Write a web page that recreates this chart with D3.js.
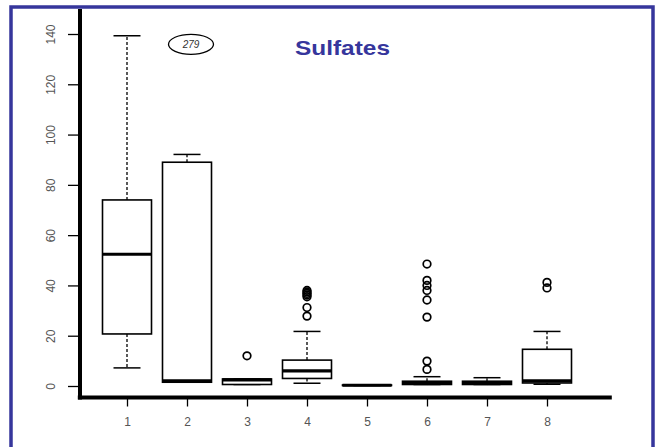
<!DOCTYPE html>
<html><head><meta charset="utf-8">
<script src="https://cdn.jsdelivr.net/npm/d3@7"></script>
<style>html,body{margin:0;padding:0;background:#fff;}svg{display:block;}</style>
</head><body>
<svg id="c" width="660" height="447"></svg>
<script>
const categories = ["1","2","3","4","5","6","7","8"];
const whiskerLow  = [7.2, 1.5, 0.6, 1.1, 0.2, 0.6, 0.6, 0.7];
const q1          = [20.7, 1.5, 0.6, 3.0, 0.2, 0.6, 0.6, 1.2];
const median      = [52.4, 2.0, 2.4, 6.0, 0.3, 1.4, 1.3, 2.0];
const q3          = [74.0, 89.0, 2.8, 10.3, 0.4, 1.9, 1.9, 14.6];
const whiskerHigh = [139.3, 92.1, 2.8, 21.7, 0.4, 3.7, 3.3, 21.7];
const outliers    = [[], [], [12], [27.8, 31.2, 35.5, 36.2, 36.8, 37.4, 38],
                     [], [48.5, 42, 40, 38, 34.2, 27.4, 9.9, 6.6], [], [41.2, 39]];
const yTicks = [0, 20, 40, 60, 80, 100, 120, 140];
const title = "Sulfates";
const noteLabel = "279";

const svg = d3.select("#c");
const blue = "#36369c";
const y = d3.scaleLinear().domain([0, 140]).range([386, 34]);
const x = d3.scalePoint().domain(categories).range([127, 547]);
const step = x.step();
const boxHalf = 24.5, capHalf = 13.5;

// frame
svg.append("rect").attr("x", 11).attr("y", 7).attr("width", 642).attr("height", 470)
  .attr("fill", "none").attr("stroke", blue).attr("stroke-width", 3.5);

// y axis
const gy = svg.append("g").attr("transform", "translate(79,0)")
  .call(d3.axisLeft(y).tickValues(yTicks).tickSize(11).tickFormat(d3.format("d")));
gy.select(".domain").remove();
gy.selectAll(".tick line").attr("stroke", "#000").attr("stroke-width", 1.3);
gy.selectAll(".tick text").attr("transform", "rotate(-90)").attr("x", 0).attr("y", -28)
  .attr("dy", "0.35em").attr("text-anchor", "middle")
  .attr("fill", "#555").style("font", "12px 'Liberation Sans', Arial, sans-serif");
svg.append("line").attr("x1", 80).attr("x2", 80).attr("y1", 9).attr("y2", 399.5)
  .attr("stroke", "#000").attr("stroke-width", 4);

// x axis
const gx = svg.append("g").attr("transform", "translate(0,397.5)")
  .call(d3.axisBottom(x).tickSize(9).tickPadding(11));
gx.select(".domain").remove();
gx.selectAll(".tick line").attr("stroke", "#000").attr("stroke-width", 1.3);
gx.selectAll(".tick text").attr("fill", "#555").style("font", "12px 'Liberation Sans', Arial, sans-serif");
svg.append("line").attr("x1", x(categories[0]) - 0.82 * step)
  .attr("x2", x(categories[categories.length - 1]) + 1.08 * step)
  .attr("y1", 397.5).attr("y2", 397.5).attr("stroke", "#000").attr("stroke-width", 4);

// boxes
const g = svg.append("g");
categories.forEach((c, i) => {
  const cx = x(c);
  const gg = g.append("g");
  gg.append("line").attr("x1", cx).attr("x2", cx).attr("y1", y(q3[i])).attr("y2", y(whiskerHigh[i]))
    .attr("stroke", "#000").attr("stroke-width", 1.3).attr("stroke-dasharray", "3,2");
  gg.append("line").attr("x1", cx).attr("x2", cx).attr("y1", y(q1[i])).attr("y2", y(whiskerLow[i]))
    .attr("stroke", "#000").attr("stroke-width", 1.3).attr("stroke-dasharray", "3,2");
  [whiskerHigh[i], whiskerLow[i]].forEach(v => {
    gg.append("line").attr("x1", cx - capHalf).attr("x2", cx + capHalf).attr("y1", y(v)).attr("y2", y(v))
      .attr("stroke", "#000").attr("stroke-width", 1.5);
  });
  gg.append("rect").attr("x", cx - boxHalf).attr("width", 2 * boxHalf)
    .attr("y", y(q3[i])).attr("height", Math.max(0, y(q1[i]) - y(q3[i])))
    .attr("fill", "#fff").attr("stroke", "#000").attr("stroke-width", 1.6);
  gg.append("line").attr("x1", cx - boxHalf).attr("x2", cx + boxHalf).attr("y1", y(median[i])).attr("y2", y(median[i]))
    .attr("stroke", "#000").attr("stroke-width", 3.2);
  gg.selectAll("circle").data(outliers[i]).join("circle")
    .attr("cx", cx).attr("cy", d => y(d)).attr("r", 3.8)
    .attr("fill", "none").attr("stroke", "#000").attr("stroke-width", 1.7);
});

// title
svg.append("text").attr("x", 295).attr("y", 55).attr("textLength", 95).attr("lengthAdjust", "spacingAndGlyphs")
  .attr("fill", blue).style("font", "bold 21px 'Liberation Sans', Arial, sans-serif").text(title);

// ellipse note
svg.append("ellipse").attr("cx", 191).attr("cy", 44.3).attr("rx", 22.5).attr("ry", 10)
  .attr("fill", "none").attr("stroke", "#000").attr("stroke-width", 1.3);
svg.append("text").attr("x", 191).attr("y", 44.3).attr("dy", "0.35em").attr("text-anchor", "middle")
  .attr("fill", "#333").style("font", "italic 10px 'Liberation Sans', Arial, sans-serif").text(noteLabel);
</script>
</body></html>
